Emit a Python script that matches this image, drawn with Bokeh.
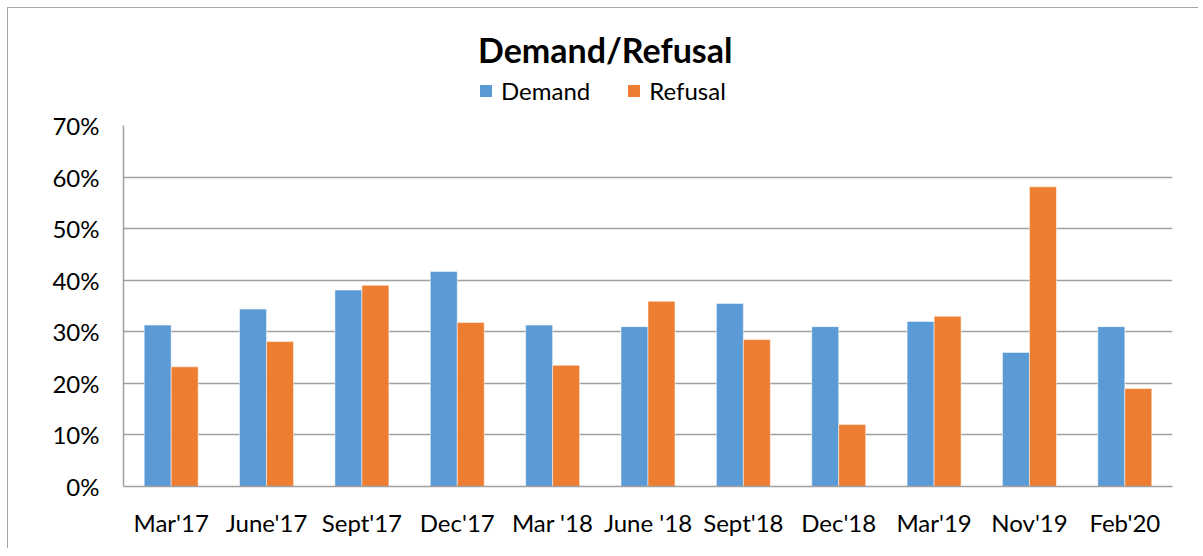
from bokeh.plotting import figure
from bokeh.layouts import column
from bokeh.models import ColumnDataSource, FactorRange, NumeralTickFormatter, Legend, LegendItem, FixedTicker, Range1d
from bokeh.transform import dodge
from bokeh.embed import file_html
from bokeh.resources import INLINE

categories = ["Mar'17", "June'17", "Sept'17", "Dec'17", "Mar '18", "June '18",
              "Sept'18", "Dec'18", "Mar'19", "Nov'19", "Feb'20"]
demand = [0.313, 0.344, 0.381, 0.417, 0.313, 0.310, 0.355, 0.310, 0.320, 0.260, 0.310]
refusal = [0.232, 0.281, 0.390, 0.318, 0.235, 0.359, 0.285, 0.120, 0.330, 0.581, 0.190]
y_ticks = [0, 0.1, 0.2, 0.3, 0.4, 0.5, 0.6, 0.7]
series_names = ["Demand", "Refusal"]
title_text = "Demand/Refusal"
colors = ["#5B9BD5", "#ED7D31"]

src = ColumnDataSource(dict(cat=categories, demand=demand, refusal=refusal))

FONT = "Lato"
W = 1190

# ---- header: title + legend ----
HDR_H = 100
hdr = figure(width=W, height=HDR_H, x_range=FactorRange(*categories, range_padding=0),
             y_range=Range1d(0, 0.7),
             output_backend="svg", toolbar_location=None,
             min_border=0, min_border_left=0, min_border_right=0, min_border_top=0, min_border_bottom=0)
hdr.axis.visible = False
hdr.grid.visible = False
hdr.outline_line_color = None
h1 = hdr.vbar(x="cat", top="demand", width=0.3, source=src, fill_color=colors[0], line_color=None,
              visible=False)
h2 = hdr.vbar(x="cat", top="refusal", width=0.3, source=src, fill_color=colors[1], line_color=None,
              visible=False)
legend = Legend(items=[LegendItem(label=series_names[0], renderers=[h1]),
                       LegendItem(label=series_names[1], renderers=[h2])],
                orientation="horizontal", location=(355, 3),
                title=title_text, title_text_font=FONT, title_text_font_size="34px",
                title_text_font_style="bold", title_text_color="#000000", title_standoff=6,
                label_text_font=FONT, label_text_font_size="24px", label_text_color="#000000",
                glyph_width=15, glyph_height=15, label_standoff=8, spacing=36,
                padding=2, margin=0, border_line_color=None, background_fill_alpha=0)
hdr.add_layout(legend, "center")

# ---- main chart ----
MAIN_H = 440
p = figure(x_range=FactorRange(*categories, range_padding=0), y_range=Range1d(0, 0.7),
           width=W, height=MAIN_H, output_backend="svg", toolbar_location=None,
           min_border_left=115, min_border_right=26, min_border_bottom=62, min_border_top=17)

bw = 0.283
p.vbar(x=dodge("cat", -bw / 2, range=p.x_range), top="demand", width=bw, source=src,
       fill_color=colors[0], line_color="#ffffff", line_alpha=0.5, line_width=1)
p.vbar(x=dodge("cat", bw / 2, range=p.x_range), top="refusal", width=bw, source=src,
       fill_color=colors[1], line_color="#ffffff", line_alpha=0.5, line_width=1)

p.outline_line_color = None
p.background_fill_color = "white"
p.border_fill_color = "white"

p.xgrid.grid_line_color = None
p.ygrid.grid_line_color = "#A0A0A0"
p.ygrid.grid_line_width = 1.5
p.yaxis.ticker = FixedTicker(ticks=y_ticks)
p.yaxis.formatter = NumeralTickFormatter(format="0%")

for ax in (p.xaxis, p.yaxis):
    ax.axis_line_color = "#A0A0A0"
    ax.axis_line_width = 1.5
    ax.major_tick_line_color = None
    ax.minor_tick_line_color = None
    ax.major_label_text_font = FONT
    ax.major_label_text_font_size = "24px"
    ax.major_label_text_color = "#000000"
p.xaxis.major_label_standoff = 15
p.yaxis.major_label_standoff = 18

layout = column(hdr, p, spacing=0,
                styles={"border-top": "1px solid #A6A6A6", "border-left": "1px solid #A6A6A6",
                        "margin-left": "7px", "margin-top": "7px"})

open("out.html", "w").write(file_html(layout, INLINE))
